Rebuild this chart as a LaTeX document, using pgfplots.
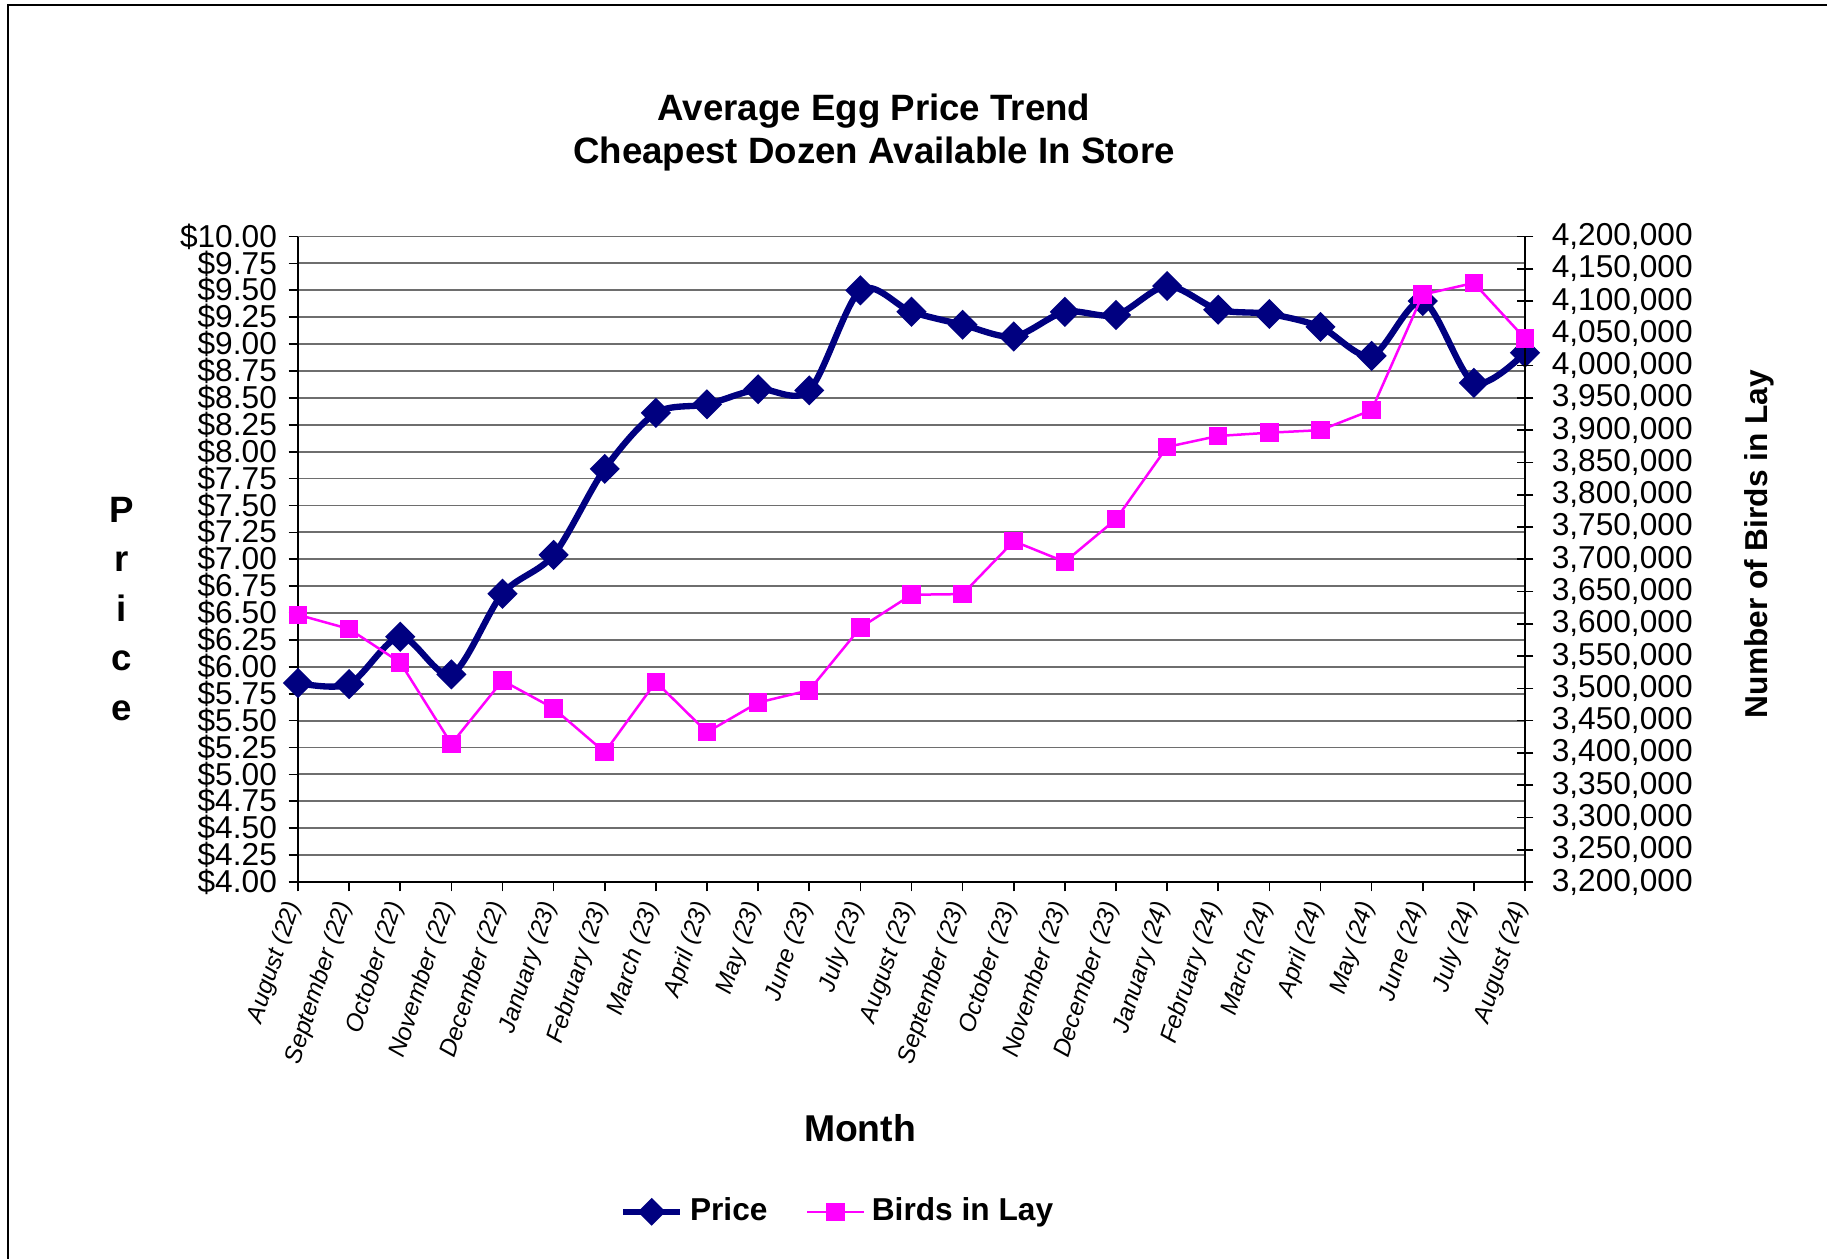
\documentclass[border=0pt]{standalone}
\usepackage{pgfplots}
\usepackage{pgfplotstable}
\pgfplotsset{compat=1.18}
\usepackage{fontspec}
\setmainfont{Liberation Sans}
\definecolor{navyP}{RGB}{0,0,128}
\definecolor{magB}{RGB}{255,0,255}
\definecolor{gridc}{RGB}{110,110,110}

\pgfplotstableread{
idx price birds
0 5.85 3614000
1 5.84 3592000
2 6.28 3540000
3 5.93 3414000
4 6.68 3512000
5 7.04 3469000
6 7.84 3401000
7 8.36 3510000
8 8.44 3432000
9 8.58 3478000
10 8.57 3497000
11 9.50 3594000
12 9.30 3645000
13 9.18 3646000
14 9.07 3728000
15 9.30 3696000
16 9.27 3762000
17 9.54 3874000
18 9.32 3891000
19 9.28 3896000
20 9.16 3900000
21 8.89 3931000
22 9.40 4110000
23 8.64 4128000
24 8.92 4042000
}\datatable

\pgfplotsset{
  common/.style={
    at={(89.4pt,113.1pt)}, anchor=south west,
    width=368.1pt, height=193.65pt, scale only axis,
    xmin=0, xmax=24,
    /pgf/number format/assume math mode=true,
    tick label style={font=\fontsize{9.5}{10}\selectfont},
    yticklabel style={inner ysep=0pt},
  }
}

\begin{document}
\begin{tikzpicture}
\begin{scope}[x=0.3pt,y=0.3pt]
\path[use as bounding box] (0,0) rectangle (1827,1259);
\draw[line width=0.7pt] (8,0) -- (8,1254) -- (1830,1254);
\node[font=\bfseries\fontsize{11}{12.9}\selectfont, align=center] at (874,1126) {Average Egg Price Trend\\Cheapest Dozen Available In Store};
\node[font=\bfseries\fontsize{11}{14.85}\selectfont, align=center] at (122,650) {P\\r\\i\\c\\e};
\node[font=\bfseries\fontsize{9.5}{11}\selectfont, rotate=90] at (1759,715) {Number of Birds in Lay};
\node[font=\bfseries\fontsize{11.2}{13}\selectfont] at (860,131) {Month};
\end{scope}

\begin{axis}[common,
  axis x line*=bottom, axis y line*=left,
  axis line style={-, black, line width=0.6pt},
  ymin=4, ymax=10,
  ytick={4,4.25,...,10},
  yticklabel={\$\pgfmathprintnumber[fixed,fixed zerofill,precision=2]{\tick}},
  ymajorgrids,
  major grid style={gridc, line width=0.55pt},
  xtick={0,...,24},
  xticklabels={August (22),September (22),October (22),November (22),December (22),January (23),February (23),March (23),April (23),May (23),June (23),July (23),August (23),September (23),October (23),November (23),December (23),January (24),February (24),March (24),April (24),May (24),June (24),July (24),August (24)},
  xticklabel style={rotate=72, anchor=east, font=\itshape\fontsize{7.3}{8}\selectfont},
  tick align=outside,
  major tick length=2.8pt,
  tick style={black, line width=0.5pt},
  xtick pos=bottom, ytick pos=left,
]
\addplot[navyP, line width=1.9pt, smooth, tension=0.5, mark=square*, mark size=2.25pt, mark options={rotate=45, solid, fill=navyP}] table[x=idx, y=price] {\datatable};
\end{axis}

\begin{axis}[common,
  axis x line=none, axis y line*=right,
  axis line style={-, black, line width=0.6pt},
  ymin=3200000, ymax=4200000,
  ytick={3200000,3250000,3300000,3350000,3400000,3450000,3500000,3550000,3600000,3650000,3700000,3750000,3800000,3850000,3900000,3950000,4000000,4050000,4100000,4150000,4200000},
  yticklabel={\pgfmathprintnumber[fixed,precision=0,1000 sep={,}]{\tick}},
  scaled y ticks=false,
  tick align=center,
  major tick length=5pt,
  tick style={black, line width=0.5pt},
  yticklabel style={xshift=2pt},
  legend columns=2,
  legend cell align=left,
  legend style={at={(0.4417,-0.511)}, anchor=center, draw=none, fill=none,
    font=\bfseries\fontsize{9.5}{11}\selectfont,
    /tikz/every even column/.append style={column sep=9.5pt}},
]
\addlegendimage{navyP, line width=1.9pt, mark=square*, mark size=2pt, mark options={rotate=45, solid, fill=navyP}}
\addlegendentry{Price}
\addplot[magB, line width=0.75pt, mark=square*, mark size=2.4pt, mark options={solid, fill=magB}] table[x=idx, y=birds] {\datatable};
\addlegendentry{Birds in Lay}
\end{axis}
\end{tikzpicture}
\end{document}
